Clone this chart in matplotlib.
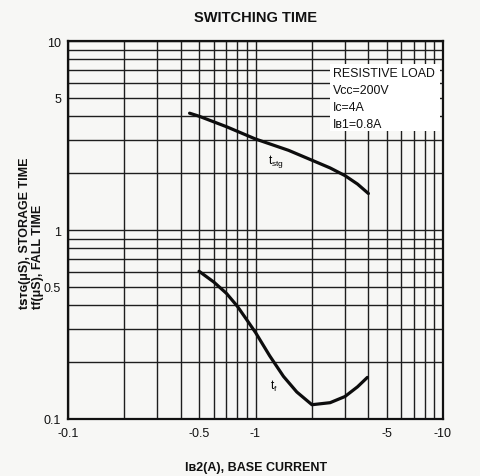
import matplotlib
matplotlib.use("Agg")
import matplotlib.pyplot as plt
from matplotlib.ticker import FixedLocator, NullFormatter, FixedFormatter
from matplotlib.patches import Rectangle

plt.rcParams['font.family'] = ['Liberation Sans', 'DejaVu Sans']

# Data (|IB2| in A, times in microseconds)
tstg_x = [0.445, 0.5, 0.7, 1.0, 1.5, 2.0, 2.5, 3.0, 3.5, 4.0]
tstg_y = [4.15, 4.0, 3.52, 3.03, 2.64, 2.34, 2.13, 1.94, 1.75, 1.56]

tf_x = [0.5, 0.6, 0.7, 0.8, 0.9, 1.0, 1.19, 1.41, 1.66, 2.0, 2.5, 3.0, 3.5, 3.95]
tf_y = [0.605, 0.53, 0.462, 0.395, 0.334, 0.287, 0.216, 0.168, 0.139, 0.119,
        0.122, 0.1315, 0.148, 0.166]

x_ticks = [0.1, 0.5, 1, 5, 10]
x_ticklabels = ["-0.1", "-0.5", "-1", "-5", "-10"]
y_ticks = [0.1, 0.5, 1, 5, 10]
y_ticklabels = ["0.1", "0.5", "1", "5", "10"]

title = "SWITCHING TIME"
xlabel = "Iʙ2(A), BASE CURRENT"
ylabel = "tꜱᴛɢ(μS), STORAGE TIME\ntf(μS), FALL TIME"
cond_text = "RESISTIVE LOAD\nVcc=200V\nIc=4A\nIʙ1=0.8A"

fig = plt.figure(figsize=(4.8, 4.77), dpi=100)
ax = fig.add_axes([68/480, 1-420/477, 375/480, 378/477])
ax.set_xscale('log')
ax.set_yscale('log')
ax.set_xlim(0.1, 10)
ax.set_ylim(0.1, 10)

minor = [m * 10.0**e for e in (-1, 0) for m in range(2, 10)]
ax.xaxis.set_major_locator(FixedLocator(x_ticks))
ax.xaxis.set_major_formatter(FixedFormatter(x_ticklabels))
ax.xaxis.set_minor_locator(FixedLocator(minor))
ax.xaxis.set_minor_formatter(NullFormatter())
ax.yaxis.set_major_locator(FixedLocator(y_ticks))
ax.yaxis.set_major_formatter(FixedFormatter(y_ticklabels))
ax.yaxis.set_minor_locator(FixedLocator(minor))
ax.yaxis.set_minor_formatter(NullFormatter())

ax.set_axisbelow(True)
ax.grid(which='both', color='#1e1e1e', lw=1.0)
ax.tick_params(which='both', length=0, labelsize=9, colors='#111111')
ax.tick_params(axis='x', pad=6)
ax.tick_params(axis='y', pad=5)
for s in ax.spines.values():
    s.set_linewidth(1.6)
    s.set_color('#111111')

ax.plot(tstg_x, tstg_y, color='#0d0d0d', lw=2.3, solid_capstyle='round',
        solid_joinstyle='round', zorder=3)
ax.plot(tf_x, tf_y, color='#0d0d0d', lw=2.3, solid_capstyle='round',
        solid_joinstyle='round', zorder=3)

ax.text(1.285, 2.33, r'$\mathregular{t_{stg}}$', fontsize=8.5, ha='center', va='center', zorder=4)
ax.text(1.256, 0.15, r'$\mathregular{t_{f}}$', fontsize=8.5, ha='center', va='center', zorder=4)

# white panel for conditions
ax.add_patch(Rectangle((262/375, 288/378), 110/375, 67/378, transform=ax.transAxes,
                       facecolor='white', edgecolor='none', zorder=2))
ax.text(265/375, 352/378, cond_text, transform=ax.transAxes, ha='left', va='top',
        fontsize=8.9, linespacing=1.56, color='#111111', zorder=4)

fig.text(255.5/480, 1-18/477, title, ha='center', va='center', fontsize=10.5,
         fontweight='bold', color='#111111')
fig.text(256/480, 1-468/477, xlabel, ha='center', va='center', fontsize=9,
         fontweight='bold', color='#111111')
fig.text(31.5/480, 1-233/477, ylabel, ha='center', va='center', rotation=90,
         fontsize=9, fontweight='bold', multialignment='left', linespacing=1.05,
         color='#111111')

fig.patch.set_facecolor('#f7f7f5')
ax.set_facecolor('#f7f7f5')
fig.savefig('out.png', dpi=100, facecolor=fig.get_facecolor())
